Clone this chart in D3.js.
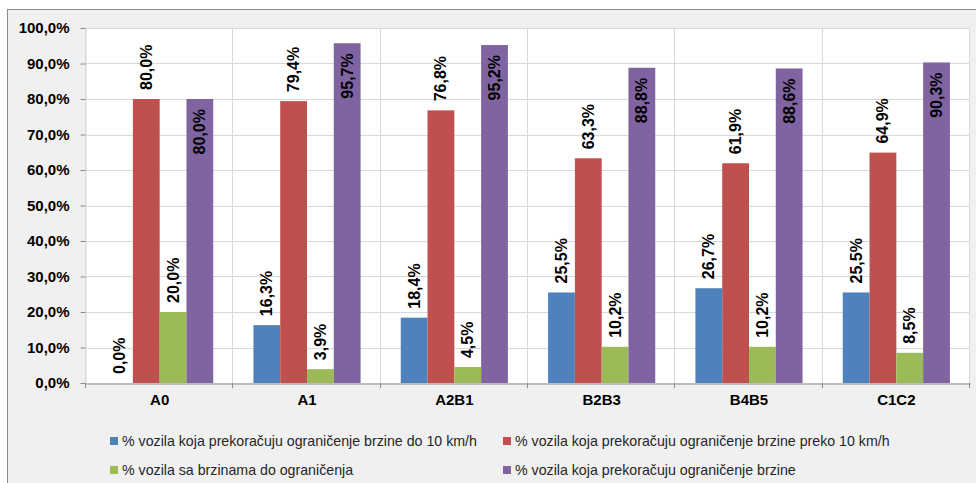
<!DOCTYPE html>
<html>
<head>
<meta charset="utf-8">
<script src="https://cdn.jsdelivr.net/npm/d3@7/dist/d3.min.js"></script>
<style>
  html, body { margin: 0; padding: 0; background: #ffffff; }
  svg { display: block; }
  text { font-family: "Liberation Sans", Arial, sans-serif; }
</style>
</head>
<body>
<svg id="chart" width="976" height="483"></svg>
<script>
// Road sections
const categories = ["A0", "A1", "A2B1", "B2B3", "B4B5", "C1C2"];

// Share of vehicles per speed class (%)
const overBy10 = [0.0, 16.3, 18.4, 25.5, 26.7, 25.5];
const overMore10 = [80.0, 79.4, 76.8, 63.3, 61.9, 64.9];
const withinLimit = [20.0, 3.9, 4.5, 10.2, 10.2, 8.5];
const overTotal = [80.0, 95.7, 95.2, 88.8, 88.6, 90.3];

const seriesNames = [
  "% vozila koja prekoračuju ograničenje brzine do 10 km/h",
  "% vozila koja prekoračuju ograničenje brzine preko 10 km/h",
  "% vozila sa brzinama do ograničenja",
  "% vozila koja prekoračuju ograničenje brzine"
];

const yTicks = [0, 10, 20, 30, 40, 50, 60, 70, 80, 90, 100];

const colors = ["#4F81BD", "#C0504D", "#9BBB59", "#8064A2"];
const labelInside = [false, false, false, true];

const series = [overBy10, overMore10, withinLimit, overTotal].map((vals, i) => ({
  name: seriesNames[i], color: colors[i], inside: labelInside[i],
  values: vals.map((v, j) => ({ cat: categories[j], v }))
}));

const fmt = v => v.toFixed(1).replace(".", ",") + "%";

const svg = d3.select("#chart");

// chart area background and frame
svg.append("rect").attr("x", 7.5).attr("y", 9.5).attr("width", 980).attr("height", 490)
  .attr("fill", "#f0f0f0").attr("stroke", "#8a8a8a").attr("stroke-width", 1);

const plot = { left: 86, right: 970, top: 28, bottom: 383 };

const x0 = d3.scaleBand().domain(categories).range([plot.left, plot.right]).paddingInner(0).paddingOuter(0);
const groupPad = x0.bandwidth() * 1.5 / 5.5 / 2;
const x1 = d3.scaleBand().domain(d3.range(series.length))
  .range([groupPad, x0.bandwidth() - groupPad]).padding(0);
const y = d3.scaleLinear().domain([0, 100]).range([plot.bottom, plot.top]);

// plot area
svg.append("rect").attr("x", plot.left).attr("y", plot.top)
  .attr("width", plot.right - plot.left).attr("height", plot.bottom - plot.top)
  .attr("fill", "#ffffff");

// horizontal gridlines
svg.append("g").selectAll("line").data(yTicks.filter(t => t > 0)).join("line")
  .attr("x1", plot.left).attr("x2", plot.right)
  .attr("y1", d => Math.round(y(d)) + 0.5).attr("y2", d => Math.round(y(d)) + 0.5)
  .attr("stroke", "#d9d9d9").attr("stroke-width", 1);

// vertical gridlines at category boundaries
const bounds = categories.map(c => x0(c)).concat([plot.right]);
svg.append("g").selectAll("line").data(bounds).join("line")
  .attr("x1", d => Math.round(d) - 0.5).attr("x2", d => Math.round(d) - 0.5)
  .attr("y1", plot.top).attr("y2", plot.bottom)
  .attr("stroke", "#d9d9d9").attr("stroke-width", 1);

// y axis
const yAxis = svg.append("g").attr("transform", `translate(${plot.left - 0.5},0)`)
  .call(d3.axisLeft(y).tickValues(yTicks).tickSize(5).tickPadding(11).tickFormat(d => fmt(d)));
yAxis.select(".domain").attr("stroke", "#d9d9d9");
yAxis.selectAll(".tick line").attr("stroke", "#8a8a8a");
yAxis.selectAll(".tick text").attr("fill", "#000").attr("font-size", 15).attr("font-weight", "bold")
  .attr("font-family", "'Liberation Sans', Arial, sans-serif");

// bars
const groups = svg.append("g").selectAll("g").data(series).join("g")
  .attr("fill", d => d.color);
groups.each(function(s, si) {
  const g = d3.select(this);
  g.selectAll("rect").data(s.values).join("rect")
    .attr("x", d => x0(d.cat) + x1(si))
    .attr("y", d => y(d.v))
    .attr("width", x1.bandwidth())
    .attr("height", d => y(0) - y(d.v));
  g.selectAll("text").data(s.values).join("text")
    .attr("transform", d => {
      const cx = x0(d.cat) + x1(si) + x1.bandwidth() / 2;
      const ty = s.inside ? y(d.v) + 10 : y(d.v) - 9;
      return `translate(${cx},${ty}) rotate(-90)`;
    })
    .attr("text-anchor", s.inside ? "end" : "start")
    .attr("dominant-baseline", "central")
    .attr("font-size", 16).attr("font-weight", "bold").attr("fill", "#000")
    .text(d => fmt(d.v));
});

// x axis
const xAxis = svg.append("g").attr("transform", `translate(0,${plot.bottom + 0.5})`)
  .call(d3.axisBottom(x0).tickSize(0).tickPadding(11));
xAxis.select(".domain").attr("stroke", "#8a8a8a");
xAxis.selectAll(".tick text").attr("fill", "#000").attr("font-size", 15).attr("font-weight", "bold")
  .attr("font-family", "'Liberation Sans', Arial, sans-serif");
svg.append("g").selectAll("line").data(bounds).join("line")
  .attr("x1", d => Math.round(d) - 0.5).attr("x2", d => Math.round(d) - 0.5)
  .attr("y1", plot.bottom).attr("y2", plot.bottom + 5)
  .attr("stroke", "#8a8a8a");

// legend
const legendPos = [[110, 441], [503, 441], [110, 470], [503, 470]];
const legend = svg.append("g").selectAll("g").data(series).join("g")
  .attr("transform", (d, i) => `translate(${legendPos[i][0]},${legendPos[i][1]})`);
legend.append("rect").attr("x", 0).attr("y", -4).attr("width", 8).attr("height", 8)
  .attr("fill", d => d.color);
legend.append("text").attr("x", 12).attr("y", 0).attr("dominant-baseline", "central")
  .attr("font-size", 14.2).attr("fill", "#262626").text(d => d.name);
</script>
</body>
</html>
